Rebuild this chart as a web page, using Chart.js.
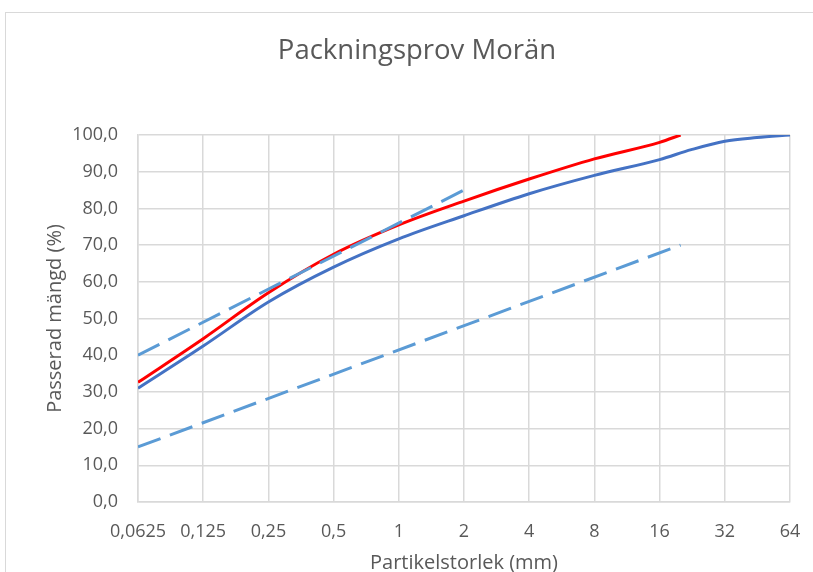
<!DOCTYPE html>
<html>
<head>
<meta charset="utf-8">
<script src="https://cdn.jsdelivr.net/npm/chart.js@4"></script>
<style>
    html, body { margin: 0; padding: 0; background: #fff; }
    #wrap { position: relative; width: 813px; height: 572px; overflow: hidden; }
    #frame { position: absolute; left: 5px; top: 12px; width: 900px; height: 700px; border: 1px solid #d9d9d9; }
    canvas { position: absolute; left: 0; top: 0; }
</style>
</head>
<body>
<div id="wrap">
    <div id="frame"></div>
    <canvas id="chart" width="813" height="572"></canvas>
</div>
<script>
// sieve sizes (mm) used as x ticks, log2 spaced
var sizes = [0.0625, 0.125, 0.25, 0.5, 1, 2, 4, 8, 16, 32, 64];
var sizeLabels = ["0,0625", "0,125", "0,25", "0,5", "1", "2", "4", "8", "16", "32", "64"];

// measured sample (blue)
var blueX = [0.0625, 0.125, 0.25, 0.5, 1, 2, 4, 8, 16, 22.4, 32, 45, 64];
var blueY = [31.0, 42.5, 54.5, 64.0, 71.7, 78.0, 84.0, 89.0, 93.3, 96.0, 98.3, 99.3, 100];

// second curve (red)
var redX = [0.0625, 0.125, 0.25, 0.5, 1, 2, 4, 8, 16, 20];
var redY = [32.6, 44.5, 57.0, 67.5, 75.5, 82.0, 88.0, 93.5, 98.0, 100];

// limit lines (dashed)
var upperX = [0.0625, 2];
var upperY = [40, 85];
var lowerX = [0.0625, 20];
var lowerY = [15, 70];

function toPoints(xs, ys) {
    return xs.map(function (x, i) { return { x: x, y: ys[i] }; });
}

var font = "'Open Sans', sans-serif";
var grey = "#595959";

new Chart(document.getElementById("chart"), {
    type: "line",
    data: {
        datasets: [
            { data: toPoints(lowerX, lowerY), borderColor: "#5B9BD5", borderWidth: 3, borderDash: [24, 10], tension: 0 },
            { data: toPoints(upperX, upperY), borderColor: "#5B9BD5", borderWidth: 3, borderDash: [24, 10], tension: 0 },
            { data: toPoints(blueX, blueY), borderColor: "#4472C4", borderWidth: 3, cubicInterpolationMode: "monotone" },
            { data: toPoints(redX, redY), borderColor: "#FF0000", borderWidth: 3, cubicInterpolationMode: "monotone" }
        ]
    },
    options: {
        responsive: false,
        animation: false,
        events: [],
        elements: { point: { radius: 0 } },
        // left padding only shifts the title centre; y axis width makes up the rest
        layout: { padding: { left: 44, right: 23, top: 0, bottom: 0 } },
        plugins: {
            legend: { display: false },
            tooltip: { enabled: false },
            title: {
                display: true,
                text: "Packningsprov Morän",
                color: grey,
                font: { family: font, size: 27.5, weight: "normal" },
                padding: { top: 35, bottom: 67 }
            }
        },
        scales: {
            x: {
                type: "logarithmic",
                min: 0.0625,
                max: 64,
                afterBuildTicks: function (axis) {
                    axis.ticks = sizes.map(function (v) { return { value: v }; });
                },
                afterFit: function (axis) {
                    axis.height = 70;
                    axis.paddingLeft = 0;
                    axis.paddingRight = 0;
                },
                grid: { color: "#d9d9d9", lineWidth: 1.5, drawTicks: false },
                border: { color: "#d9d9d9", width: 1.5 },
                ticks: {
                    color: grey,
                    font: { family: font, size: 18 },
                    padding: 19,
                    maxRotation: 0,
                    autoSkip: false,
                    callback: function (value) {
                        var i = sizes.indexOf(value);
                        return i >= 0 ? sizeLabels[i] : "";
                    }
                },
                title: {
                    display: true,
                    text: "Partikelstorlek (mm)",
                    color: grey,
                    font: { family: font, size: 20 },
                    padding: { top: 0, bottom: -3 }
                }
            },
            y: {
                min: 0,
                max: 100,
                afterFit: function (axis) {
                    axis.width = 94;
                    axis.paddingTop = 0;
                    axis.paddingBottom = 0;
                },
                grid: { color: "#d9d9d9", lineWidth: 1.5, drawTicks: false },
                border: { color: "#d9d9d9", width: 1.5 },
                ticks: {
                    stepSize: 10,
                    color: grey,
                    font: { family: font, size: 18 },
                    padding: 20,
                    callback: function (value) {
                        return value.toFixed(1).replace(".", ",");
                    }
                },
                title: {
                    display: true,
                    text: "Passerad mängd (%)",
                    color: grey,
                    font: { family: font, size: 20 },
                    padding: { top: -1, bottom: 0 }
                }
            }
        }
    }
});
</script>
</body>
</html>
